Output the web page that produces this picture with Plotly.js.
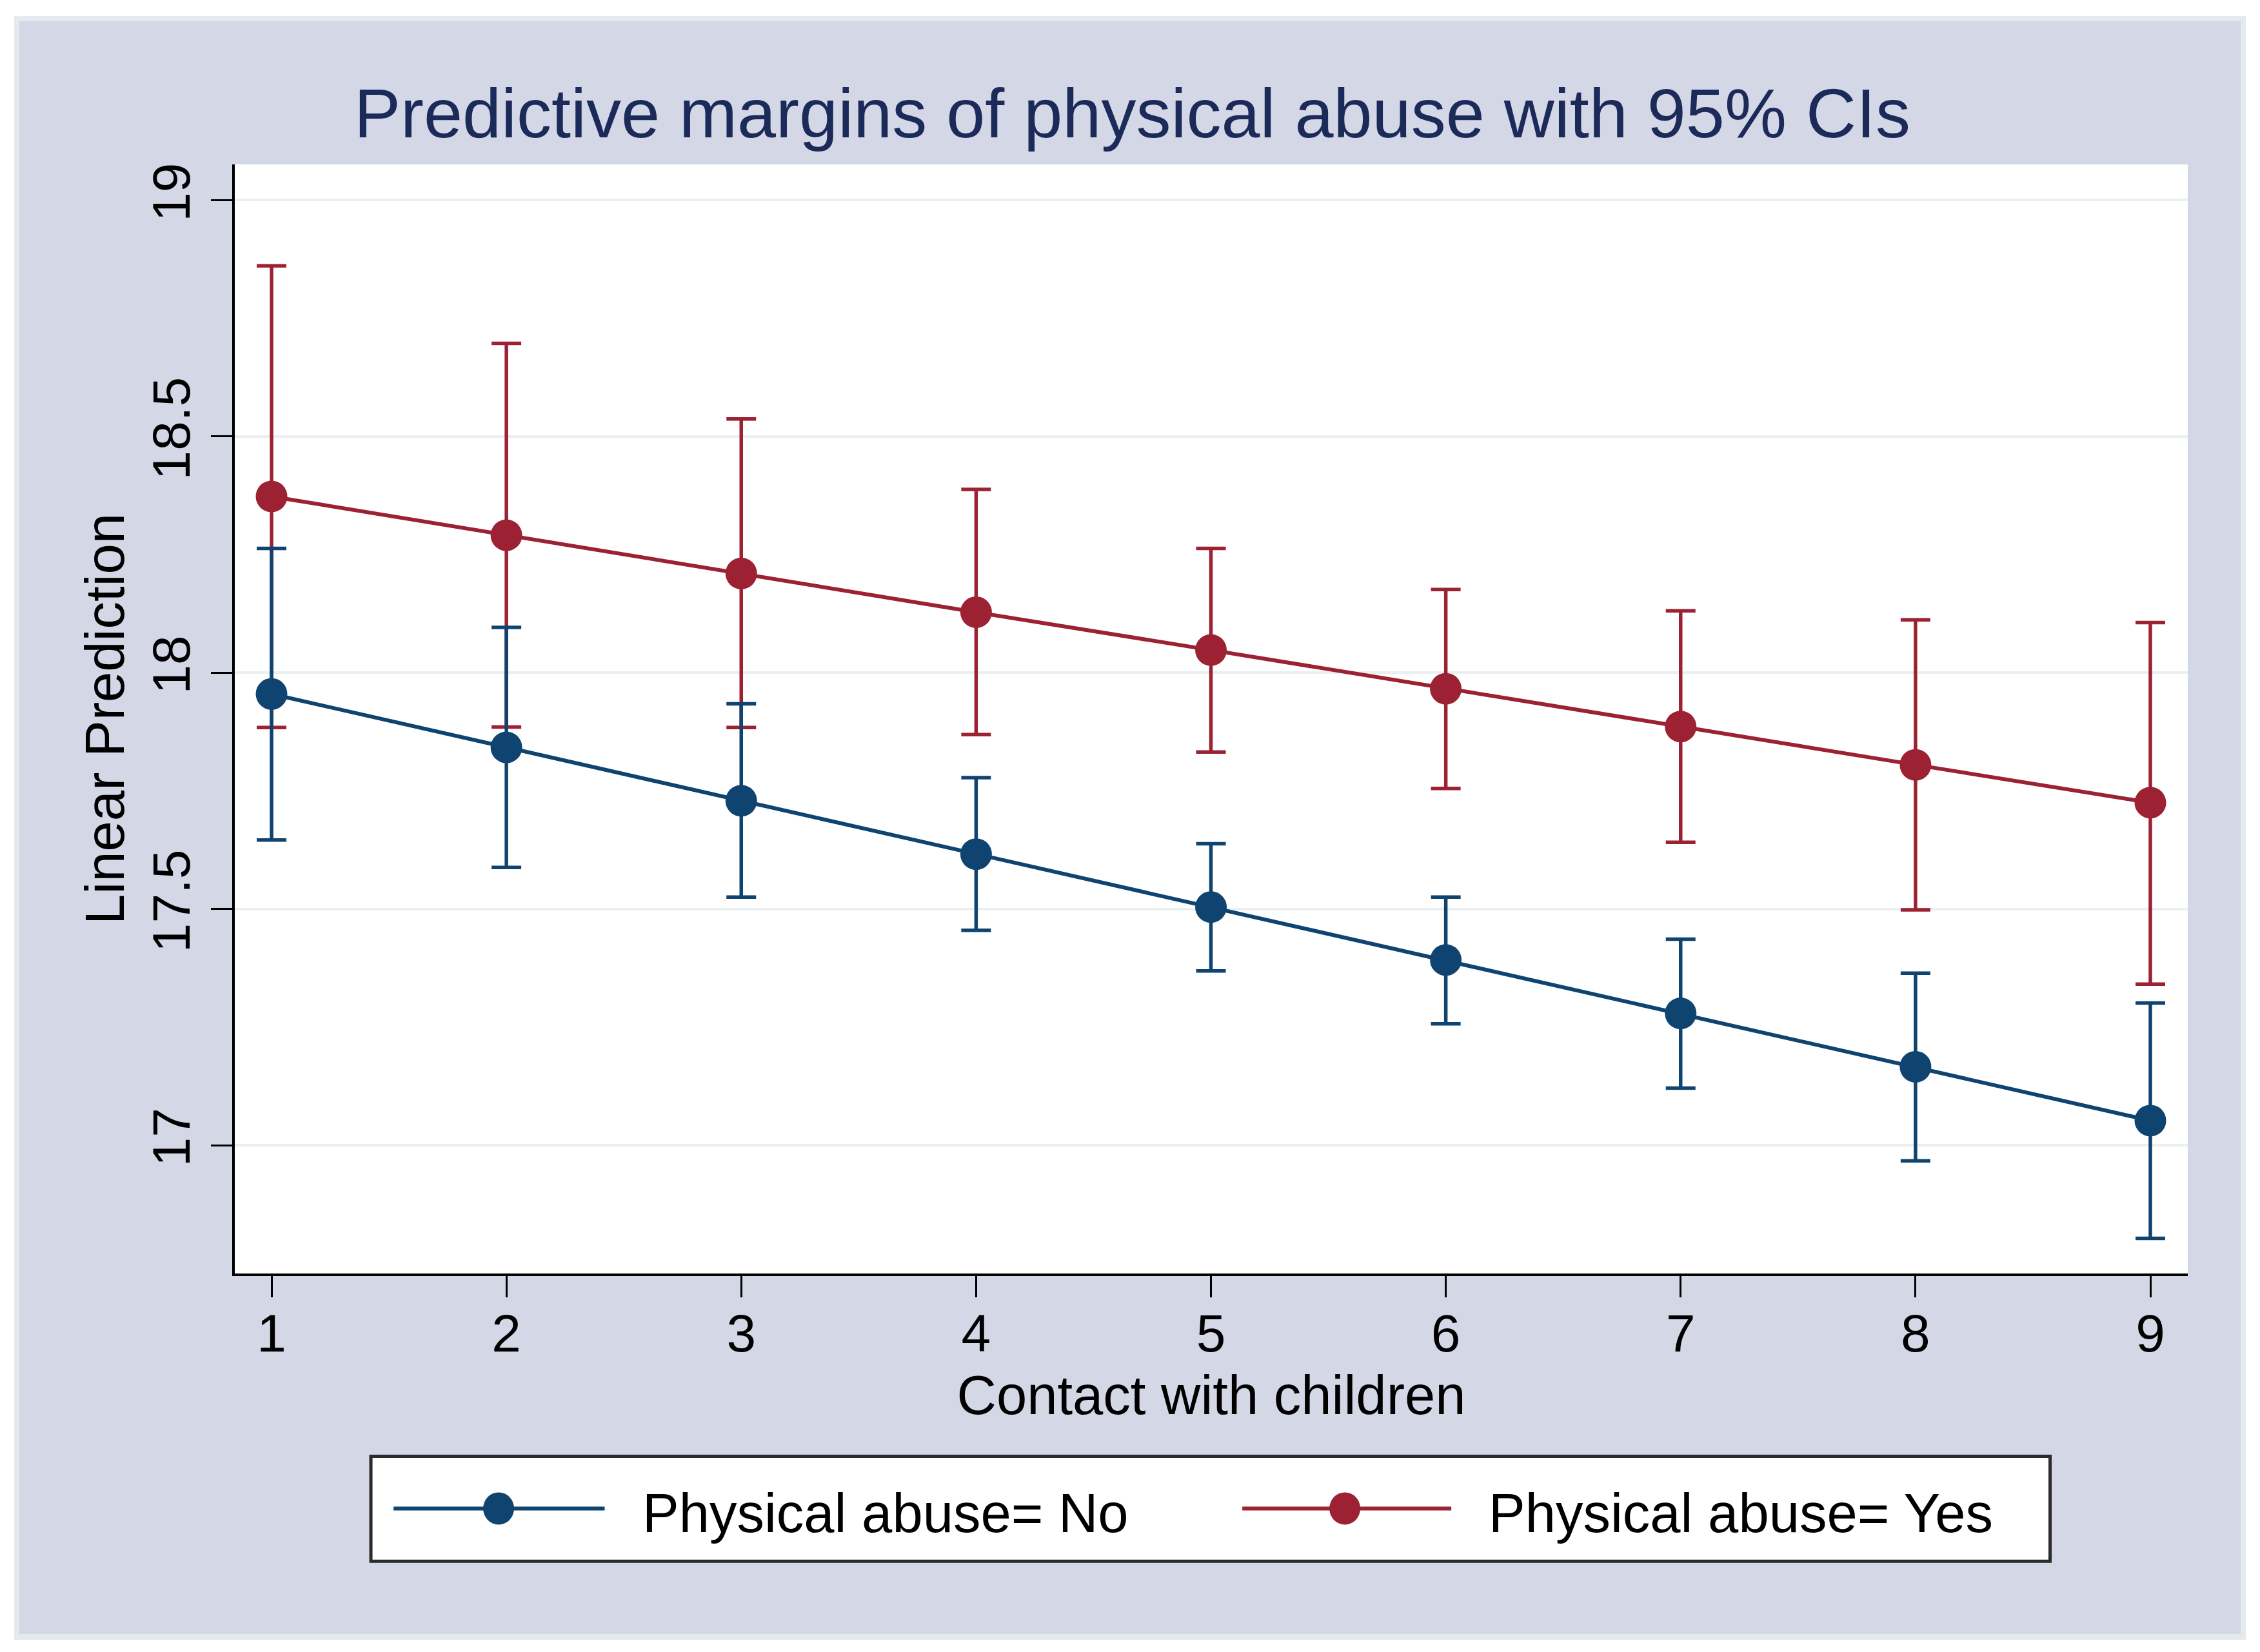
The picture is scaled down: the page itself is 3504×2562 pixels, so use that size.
<!DOCTYPE html>
<html>
<head>
<meta charset="utf-8">
<script src="https://cdn.plot.ly/plotly-3.0.1.min.js"></script>
<style>
  html, body { margin: 0; padding: 0; background: #ffffff; }
  #frame { position: absolute; left: 22px; top: 25px; width: 3460px; height: 2518px; background: #e4eaee; }
  #chart { position: absolute; left: 30px; top: 33px; width: 3444px; height: 2501px; }
</style>
</head>
<body>
<div id="frame"></div>
<div id="chart"></div>
<script>
// ---- data ----
const contact = [1, 2, 3, 4, 5, 6, 7, 8, 9];
const xTickLabels = ['1', '2', '3', '4', '5', '6', '7', '8', '9'];
const yTickValues = [17, 17.5, 18, 18.5, 19];
const yTickLabels = ['17', '17.5', '18', '18.5', '19'];

const seriesNames = ['Physical abuse= No', 'Physical abuse= Yes'];

const abuseNo      = [17.955, 17.842, 17.729, 17.616, 17.504, 17.392, 17.279, 17.166, 17.052];
const abuseNoLow   = [17.646, 17.588, 17.525, 17.455, 17.369, 17.257, 17.121, 16.967, 16.803];
const abuseNoHigh  = [18.263, 18.096, 17.934, 17.778, 17.638, 17.525, 17.436, 17.364, 17.301];

const abuseYes     = [18.373, 18.291, 18.210, 18.128, 18.048, 17.966, 17.886, 17.805, 17.725];
const abuseYesLow  = [17.884, 17.885, 17.884, 17.869, 17.832, 17.755, 17.641, 17.498, 17.341];
const abuseYesHigh = [18.861, 18.697, 18.537, 18.388, 18.263, 18.176, 18.131, 18.112, 18.106];

// ---- styling ----
const blue = '#0f4471';
const red = '#9c2233';
const FONT = '"Liberation Sans", Arial, Helvetica, sans-serif';
const W = 3444, H = 2501;

function diff(a, b) { return a.map((v, i) => +(v - b[i]).toFixed(4)); }

function errTrace(y, lo, hi, color) {
  return {
    x: contact, y: y, type: 'scatter', mode: 'markers',
    marker: { size: 2, opacity: 0, color: color },
    error_y: { type: 'data', symmetric: false, array: diff(hi, y), arrayminus: diff(y, lo),
               color: color, thickness: 5.5, width: 23 },
    showlegend: false, hoverinfo: 'skip'
  };
}
function lineTrace(y, color, name) {
  return {
    x: contact, y: y, type: 'scatter', mode: 'lines+markers', name: name,
    line: { color: color, width: 6 },
    marker: { color: color, size: 49 },
    showlegend: false
  };
}

const traces = [
  errTrace(abuseYes, abuseYesLow, abuseYesHigh, red),
  errTrace(abuseNo, abuseNoLow, abuseNoHigh, blue),
  lineTrace(abuseNo, blue, seriesNames[0]),
  lineTrace(abuseYes, red, seriesNames[1])
];

// custom legend (Stata style, long key lines and big markers)
const legY = -0.2119;
const legendItems = [
  { color: blue, lx0: 0.0813, lx1: 0.1894, mx: 0.1351, tx: 0.2081, name: seriesNames[0] },
  { color: red,  lx0: 0.5159, lx1: 0.6229, mx: 0.5684, tx: 0.6415, name: seriesNames[1] }
];
const shapes = [
  { type: 'rect', xref: 'paper', yref: 'paper', x0: 0.0697, x1: 0.9295, y0: -0.2595, y1: -0.1648,
    line: { color: '#2b2b2b', width: 5 }, fillcolor: '#ffffff', layer: 'below' }
];
const annotations = [];
legendItems.forEach(it => {
  shapes.push({ type: 'line', xref: 'paper', yref: 'paper', x0: it.lx0, x1: it.lx1, y0: legY, y1: legY,
                line: { color: it.color, width: 6 } });
  shapes.push({ type: 'circle', xref: 'paper', yref: 'paper', xsizemode: 'pixel', ysizemode: 'pixel',
                xanchor: it.mx, yanchor: legY, x0: -24, x1: 24, y0: -25, y1: 25,
                fillcolor: it.color, line: { color: it.color, width: 0 } });
  annotations.push({ xref: 'paper', yref: 'paper', x: it.tx, y: -0.2159, xanchor: 'left', yanchor: 'middle',
                     text: it.name, showarrow: false, font: { family: FONT, size: 85, color: '#000000' } });
});

const layout = {
  width: W, height: H,
  paper_bgcolor: '#d3d7e6',
  plot_bgcolor: '#ffffff',
  margin: { l: 334, r: 82, t: 222, b: 559, pad: 0 },
  font: { family: FONT, color: '#000000' },
  title: {
    text: 'Predictive margins of physical abuse with 95% CIs',
    font: { family: FONT, size: 108, color: '#1c2a5a' },
    x: 0.501, xref: 'container', xanchor: 'center',
    y: 1 - 142 / H, yref: 'container', yanchor: 'middle'
  },
  xaxis: {
    range: [0.8434, 9.1593],
    tickmode: 'array', tickvals: contact, ticktext: xTickLabels,
    ticks: 'outside', ticklen: 33, tickwidth: 3, tickcolor: '#000000',
    ticklabelstandoff: -14,
    showline: true, linecolor: '#000000', linewidth: 4,
    showgrid: false, zeroline: false,
    tickfont: { family: FONT, size: 82, color: '#000000' },
    title: { text: 'Contact with children', font: { family: FONT, size: 85, color: '#000000' }, standoff: 22 }
  },
  yaxis: {
    range: [16.7285, 19.0757],
    tickmode: 'array', tickvals: yTickValues, ticktext: yTickLabels,
    tickangle: -90,
    ticks: 'outside', ticklen: 33, tickwidth: 3, tickcolor: '#000000',
    showline: true, linecolor: '#000000', linewidth: 4,
    showgrid: true, gridcolor: '#e8f0f2', gridwidth: 4, zeroline: false,
    tickfont: { family: FONT, size: 82, color: '#000000' },
    title: { text: 'Linear Prediction', font: { family: FONT, size: 85, color: '#000000' }, standoff: 0 }
  },
  shapes: shapes,
  annotations: annotations,
  showlegend: false
};

Plotly.newPlot('chart', traces, layout, { displayModeBar: false, staticPlot: true });
</script>
</body>
</html>
